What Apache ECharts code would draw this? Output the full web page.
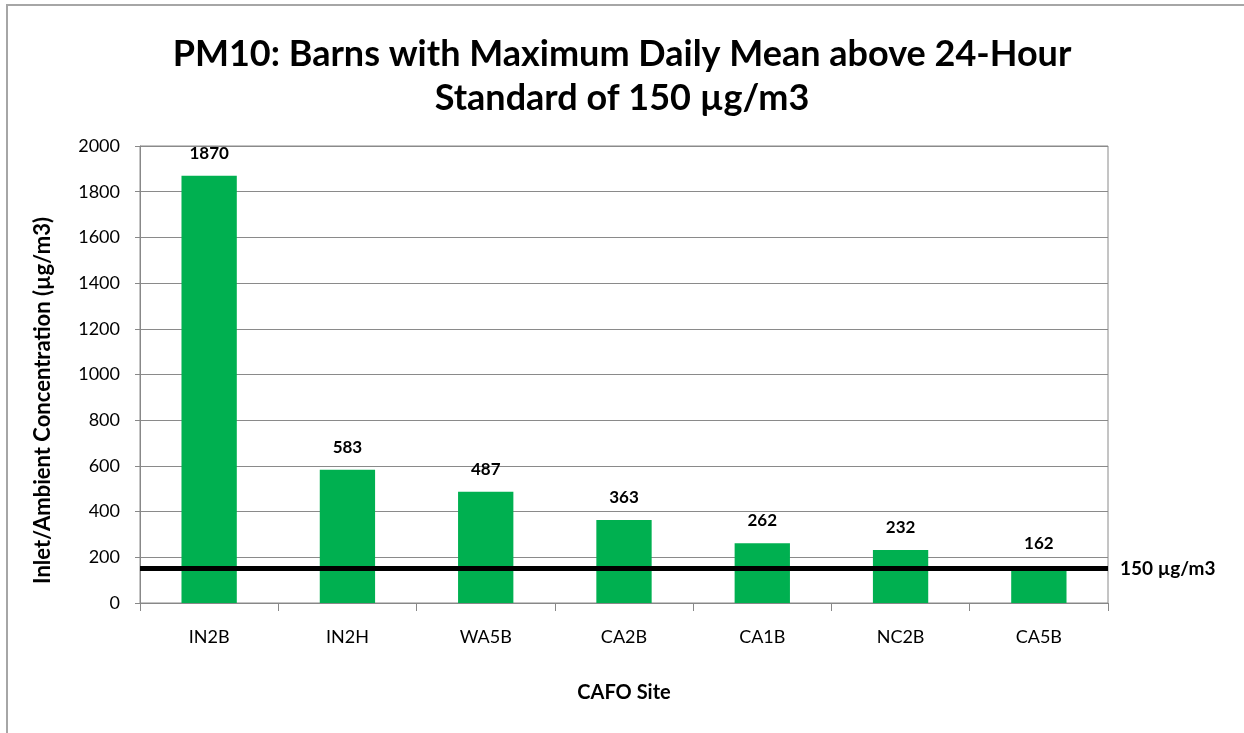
<!DOCTYPE html>
<html>
<head>
<meta charset="utf-8">
<script src="https://cdn.jsdelivr.net/npm/echarts@6/dist/echarts.min.js"></script>
<style>html,body{margin:0;padding:0;background:#fff;overflow:hidden}#c{width:1244px;height:733px}</style>
</head>
<body>
<div id="c"></div>
<script>
const categories = ['IN2B', 'IN2H', 'WA5B', 'CA2B', 'CA1B', 'NC2B', 'CA5B'];
const values = [1870, 583, 487, 363, 262, 232, 162];
const standardValue = 150;
const standardLabel = '150 µg/m3';
const yTicks = { min: 0, max: 2000, interval: 200 };
const titleText = 'PM10: Barns with Maximum Daily Mean above 24-Hour\nStandard of 150 µg/m3';
const yName = 'Inlet/Ambient Concentration (µg/m3)';
const xName = 'CAFO Site';

const FONT = 'Lato, "Open Sans", sans-serif';
const chart = echarts.init(document.getElementById('c'), null, { renderer: 'canvas' });
chart.setOption({
  animation: false,
  backgroundColor: '#fff',
  graphic: [{
    type: 'polyline',
    shape: { points: [[7, 740], [7, 5], [1250, 5]] },
    style: { fill: 'none', stroke: '#a6a6a6', lineWidth: 2 }
  }],
  title: {
    text: titleText, left: 'center', top: 27,
    textStyle: { fontFamily: FONT, fontSize: 36, fontWeight: 'bold', color: '#000', lineHeight: 44 }
  },
  grid: { left: 140, right: 136, top: 146, bottom: 130, show: true, borderColor: '#8a8a8a', borderWidth: 1, containLabel: false },
  xAxis: {
    type: 'category', data: categories,
    name: xName, nameLocation: 'middle', nameGap: 80,
    nameTextStyle: { fontFamily: FONT, fontSize: 20, fontWeight: 'bold', color: '#000' },
    axisLine: { lineStyle: { color: '#888' } },
    axisTick: { show: true, length: 8, lineStyle: { color: '#888' } },
    axisLabel: { fontFamily: FONT, fontSize: 18, color: '#000', margin: 25 }
  },
  yAxis: {
    type: 'value', min: yTicks.min, max: yTicks.max, interval: yTicks.interval,
    name: yName, nameLocation: 'middle', nameGap: 86, nameRotate: 90,
    nameTextStyle: { fontFamily: FONT, fontSize: 22, fontWeight: 'bold', color: '#000', padding: [0, 52, 0, 0] },
    axisLine: { show: true, lineStyle: { color: '#888' } },
    axisTick: { show: true, length: 5, lineStyle: { color: '#888' } },
    axisLabel: { fontFamily: FONT, fontSize: 18, color: '#000', margin: 20, formatter: v => String(v) },
    splitLine: { lineStyle: { color: '#8a8a8a', width: 1 } }
  },
  series: [{
    type: 'bar', data: values, barWidth: '40%',
    itemStyle: { color: '#00b050' },
    label: { show: true, position: 'top', distance: 14, fontFamily: FONT, fontSize: 17, fontWeight: 'bold', color: '#000' },
    markLine: {
      silent: true, symbol: 'none',
      data: [{ yAxis: standardValue }],
      lineStyle: { color: '#000', width: 5, type: 'solid' },
      label: { show: true, position: 'end', formatter: standardLabel, distance: 12,
        fontFamily: FONT, fontSize: 19, fontWeight: 'bold', color: '#000' }
    }
  }]
});
</script>
</body>
</html>
